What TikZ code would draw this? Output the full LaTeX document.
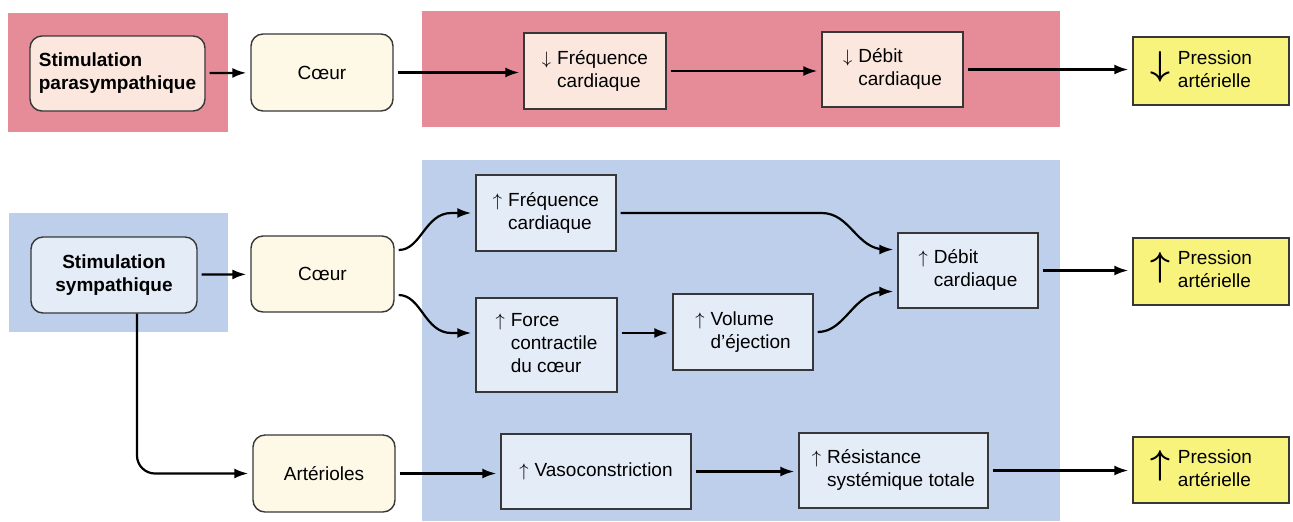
\documentclass[tikz,border=0pt]{standalone}
\usepackage{fontspec}
\setmainfont{Liberation Sans}
\usetikzlibrary{arrows.meta, positioning}

\definecolor{pinkband}{RGB}{230,140,152}
\definecolor{pinkbox}{RGB}{251,231,222}
\definecolor{blueband}{RGB}{189,207,234}
\definecolor{bluebox}{RGB}{228,236,247}
\definecolor{creambox}{RGB}{253,249,230}
\definecolor{pressyellow}{RGB}{248,243,124}
\definecolor{linec}{RGB}{55,55,55}

% text with a small arrow in front, lines aligned after the arrow
\newcommand{\arrowtext}[3]{\begin{tabular}{@{}l@{\hspace{3pt}}l@{}}$#1$ & #2\\ & #3\end{tabular}}
\newcommand{\presstext}[1]{{\boldmath\fontsize{18}{18}\selectfont$#1$}\hspace{4pt}\begin{tabular}{@{}l@{}}Pression\\art\'erielle\end{tabular}\hspace{10pt}}

\tikzset{
  dims/.style 2 args={minimum width=#1pt, minimum height=#2pt},
  rbox/.style={draw=linec, line width=0.7pt, rounded corners=6pt, align=left, inner sep=1pt},
  sbox/.style={draw=linec, line width=0.7pt, align=left, inner sep=1pt},
  arr/.style={-{Latex[length=7pt,width=5pt]}, line width=1.1pt, shorten <=2pt, shorten >=2pt}
}

\begin{document}
\begin{tikzpicture}[x=0.5pt, y=-0.5pt, font=\fontsize{9.5}{11.5}\selectfont]
  \useasboundingbox (0,0) rectangle (1293,521);

  % background bands
  \fill[pinkband] (8,13) rectangle (228,132);
  \fill[pinkband] (422,11) rectangle (1060,127);
  \fill[blueband] (9,213) rectangle (228,332);
  \fill[blueband] (422,160) rectangle (1060,521);

  % parasympathetic row
  \node[rbox, fill=pinkbox, dims={87.5}{37.5}, font=\fontsize{9.5}{11.5}\selectfont\bfseries] (spara) at (117.5,73.5) {Stimulation\\parasympathique};
  \node[rbox, fill=creambox, dims={71}{38.5}] (coeurA) at (322,72.5) {C\oe ur};
  \node[sbox, fill=pinkbox, dims={71}{38}] (freqA) at (595,71) {\arrowtext{\downarrow}{Fr\'equence}{cardiaque}};
  \node[sbox, fill=pinkbox, dims={70.5}{37.5}] (debitA) at (892.5,69.5) {\arrowtext{\downarrow}{D\'ebit}{cardiaque}};
  \node[sbox, fill=pressyellow, dims={78}{34}] (pressA) at (1211,71) {\presstext{\downarrow}};

  % sympathetic row
  \node[rbox, fill=bluebox, dims={83}{38}, align=center, font=\fontsize{9.5}{11.5}\selectfont\bfseries] (ssym) at (114,275) {Stimulation\\sympathique};
  \node[rbox, fill=creambox, dims={71.5}{38}] (coeurB) at (322.5,274) {C\oe ur};
  \node[sbox, fill=bluebox, dims={70}{38}] (freqB) at (546,213) {\arrowtext{\uparrow}{Fr\'equence}{cardiaque}};
  \node[sbox, fill=bluebox, dims={70.5}{47}] (force) at (546.5,345) {\arrowtext{\uparrow}{Force}{contractile\\ & du c\oe ur}};
  \node[sbox, fill=bluebox, dims={70}{38}] (volume) at (743,332) {\arrowtext{\uparrow}{Volume}{d'\'ejection}};
  \node[sbox, fill=bluebox, dims={70}{37.5}] (debitB) at (968,270.5) {\arrowtext{\uparrow}{D\'ebit}{cardiaque}};
  \node[sbox, fill=pressyellow, dims={78}{33.5}] (pressB) at (1211,271.5) {\presstext{\uparrow}};

  % arterioles row
  \node[rbox, fill=creambox, dims={71}{38.5}] (arter) at (324,473.5) {Art\'erioles};
  \node[sbox, fill=bluebox, dims={95}{37.5}] (vaso) at (596,471.5) {$\uparrow$\hspace{3pt}Vasoconstriction};
  \node[sbox, fill=bluebox, dims={94.5}{37.5}] (resist) at (893.5,470.5) {\arrowtext{\uparrow}{R\'esistance}{syst\'emique totale}};
  \node[sbox, fill=pressyellow, dims={78}{33}] (pressC) at (1211,470) {\presstext{\uparrow}};

  % connectors
  \draw[arr] (spara) -- (coeurA);
  \draw[arr] (coeurA) -- (freqA.west |- coeurA);
  \draw[arr] (freqA) -- (debitA.west |- freqA);
  \draw[arr] (debitA) -- (pressA.west |- debitA);

  \draw[arr] (ssym) -- (coeurB);
  \draw[arr] ([yshift=12pt]coeurB.east) to[out=0, in=180] ([xshift=-12pt]freqB.west) -- (freqB.west);
  \draw[arr] ([yshift=-10.5pt]coeurB.east) to[out=0, in=180] ([xshift=-12pt, yshift=6pt]force.west) -- ([yshift=6pt]force.west);
  \draw[arr] ([yshift=6pt]force.east) -- ([yshift=6pt]force.east -| volume.west);
  \draw[arr] (freqB.east) -- ++(205,0) to[out=0, in=180] ([xshift=-6pt, yshift=10.5pt]debitB.west) -- ([yshift=10.5pt]debitB.west);
  \draw[arr] (volume.east) to[out=0, in=180] ([xshift=-6pt, yshift=-10.5pt]debitB.west) -- ([yshift=-10.5pt]debitB.west);
  \draw[arr] (debitB) -- (pressB.west |- debitB);

  \draw[arr, rounded corners=9pt, shorten <=0pt] ([xshift=11.5pt]ssym.south) |- (arter.west);
  \draw[arr] (arter) -- (vaso.west |- arter);
  \draw[arr] (vaso) -- (resist.west |- vaso);
  \draw[arr] (resist) -- (pressC.west |- resist);
\end{tikzpicture}
\end{document}
